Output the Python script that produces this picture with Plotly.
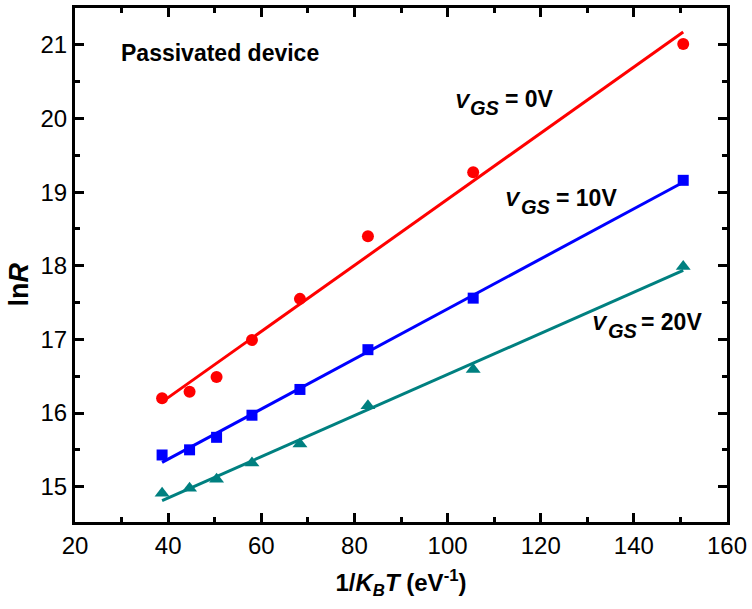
import numpy as np
import plotly.graph_objects as go

# 1/(k_B T) in eV^-1
inv_kt = [38.7, 44.6, 50.4, 58.0, 68.3, 82.9, 105.5, 150.6]

# ln R for each gate bias
ln_r_0v = [16.20, 16.29, 16.49, 16.99, 17.55, 18.40, 19.27, 21.01]
ln_r_10v = [15.43, 15.50, 15.67, 15.97, 16.32, 16.86, 17.56, 19.16]
ln_r_20v = [14.91, 14.98, 15.10, 15.32, 15.58, 16.10, 16.59, 17.99]

x_ticks = [20, 40, 60, 80, 100, 120, 140, 160]
y_ticks = [15, 16, 17, 18, 19, 20, 21]

series = [
    ("0V", ln_r_0v, "#ff0000", "circle", 12),
    ("10V", ln_r_10v, "#0000ff", "square", 11),
    ("20V", ln_r_20v, "#008080", "triangle-up", 13),
]

FONT = "Liberation Sans, Arial, sans-serif"

fig = go.Figure()
x_arr = np.array(inv_kt)
x_fit = np.array([x_arr.min(), x_arr.max()])
for name, ys, color, symbol, size in series:
    slope, icpt = np.polyfit(x_arr, np.array(ys), 1)
    fig.add_trace(go.Scatter(
        x=x_fit, y=slope * x_fit + icpt, mode="lines",
        line=dict(color=color, width=3), showlegend=False, hoverinfo="skip"))
    fig.add_trace(go.Scatter(
        x=inv_kt, y=ys, mode="markers", name=name,
        marker=dict(color=color, symbol=symbol, size=size, line=dict(width=0)),
        showlegend=False))

axis_common = dict(
    showline=True, linecolor="black", linewidth=3, mirror="allticks",
    ticks="inside", ticklen=9, tickwidth=3, tickcolor="black",
    showgrid=False, zeroline=False,
    tickfont=dict(family=FONT, size=24, color="black"),
)

fig.update_xaxes(
    range=[20, 160], tickvals=x_ticks,
    minor=dict(ticks="inside", ticklen=5, tickwidth=3, dtick=10, tick0=20, tickcolor="black"),
    title=dict(text="<b>1/<i>K</i><sub><i>B</i></sub><i>T</i> (eV<sup>-1</sup>)</b>",
               font=dict(family=FONT, size=24, color="black"), standoff=17),
    **axis_common)
fig.update_yaxes(
    range=[14.52, 21.5], tickvals=y_ticks,
    minor=dict(ticks="inside", ticklen=5, tickwidth=3, dtick=0.5, tick0=15, tickcolor="black"),
    **axis_common)

fig.add_annotation(x=-0.086, y=0.462, xref="paper", yref="paper", textangle=-90,
                   xanchor="center", yanchor="middle",
                   text="<b>ln<i>R</i></b>", showarrow=False,
                   font=dict(family=FONT, size=27, color="black"))
fig.add_annotation(x=29.5, y=20.885, xref="x", yref="y", xanchor="left", yanchor="middle",
                   text="<b>Passivated device</b>", showarrow=False,
                   font=dict(family=FONT, size=23, color="black"))

# Gate-bias labels: italic V, subscript GS, then "= value"
labels = [("0V", 101.4, 20.262, 15, 50), ("10V", 112.1, 18.92, 16, 51), ("20V", 130.7, 17.24, 16, 49)]
for bias, lx, ly, gs_dx, eq_dx in labels:
    fig.add_annotation(x=lx, y=ly, xref="x", yref="y", xanchor="left", yanchor="middle",
                       yshift=-1, borderpad=0, text="<b><i>V</i></b>", showarrow=False,
                       font=dict(family=FONT, size=21, color="black"))
    fig.add_annotation(x=lx, y=ly, xref="x", yref="y", xanchor="left", yanchor="middle",
                       xshift=gs_dx, yshift=-9, borderpad=0, text="<b><i>GS</i></b>",
                       showarrow=False, font=dict(family=FONT, size=20, color="black"))
    fig.add_annotation(x=lx, y=ly, xref="x", yref="y", xanchor="left", yanchor="middle",
                       xshift=eq_dx, borderpad=0, text="<b>= " + bias + "</b>", showarrow=False,
                       font=dict(family=FONT, size=23, color="black"))

fig.update_layout(
    width=752, height=609,
    margin=dict(l=75, r=25, t=5, b=87),
    paper_bgcolor="white", plot_bgcolor="white",
    font=dict(family=FONT, color="black"),
)

fig.write_html("out.html")
